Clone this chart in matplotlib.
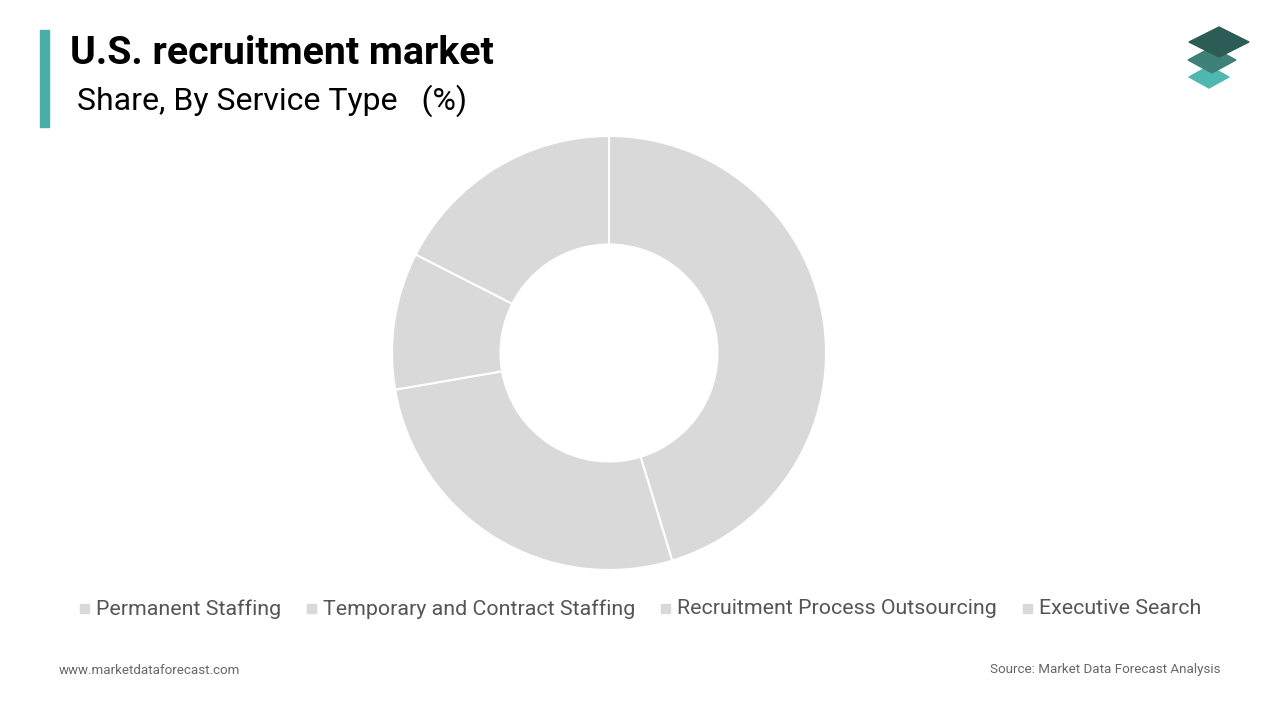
import matplotlib
matplotlib.use("Agg")
import matplotlib.pyplot as plt
from matplotlib.patches import Rectangle, Polygon

categories = ["Permanent Staffing", "Temporary and Contract Staffing",
              "Recruitment Process Outsourcing", "Executive Search"]
shares = [45.3, 27.0, 10.2, 17.5]
colors = ["#d9d9d9"] * 4

fig = plt.figure(figsize=(12.8, 7.2), dpi=100)
W, H = 1280, 720

def fx(x): return x / W
def fy(y): return 1 - y / H

fig.patches.append(Rectangle((fx(40), fy(127)), fx(9), (127 - 30) / H,
                             transform=fig.transFigure, color="#4aaea8"))
fig.text(fx(70), fy(53), "U.S. recruitment market", fontsize=28.3, fontweight="bold",
         va="center", ha="left", family="Roboto")
fig.text(fx(77), fy(101), "Share, By Service Type   (%)", fontsize=23,
         va="center", ha="left", family="Roboto")

# logo
def diamond(cx, cy, w, h, c):
    pts = [(fx(cx - w), fy(cy)), (fx(cx), fy(cy - h)), (fx(cx + w), fy(cy)), (fx(cx), fy(cy + h))]
    fig.patches.append(Polygon(pts, closed=True, transform=fig.transFigure, color=c))
diamond(1209, 77, 20, 11, "#4fb8b0")
diamond(1212, 60, 24, 13, "#3f8079")
diamond(1219, 42, 30, 15, "#2d5b55")

ax = fig.add_axes([fx(609 - 217), fy(353 + 217), 434 / W, 434 / H])
ax.pie(shares, colors=colors, startangle=90, counterclock=False,
       wedgeprops=dict(width=0.5, edgecolor="white", linewidth=1.5))
ax.set_aspect("equal")
ax.set_xlim(-1, 1); ax.set_ylim(-1, 1)

xs = [80, 307, 661, 1023]
for x, c, col in zip(xs, categories, colors):
    fig.patches.append(Rectangle((fx(x), fy(613)), 9 / W, 9 / H,
                                 transform=fig.transFigure, color=col))
    fig.text(fx(x + 16), fy(609), c, fontsize=15.4, color="#555555",
             va="center", ha="left", family="Roboto")

fig.text(fx(59), fy(670), "www.marketdataforecast.com", fontsize=9.6,
         color="#666666", va="center", ha="left", family="Roboto")
fig.text(fx(1220), fy(670), "Source: Market Data Forecast Analysis", fontsize=9.6,
         color="#666666", va="center", ha="right", family="Roboto")

fig.savefig("out.png", dpi=100)
